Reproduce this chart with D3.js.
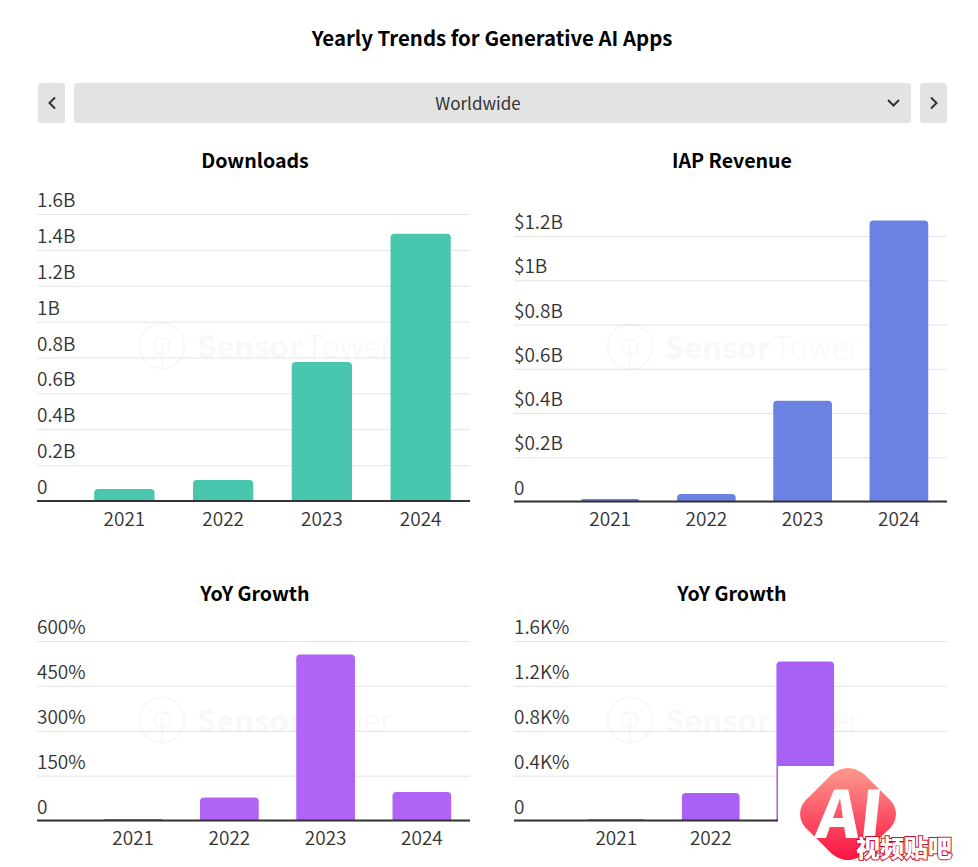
<!DOCTYPE html>
<html lang="en">
<head>
<meta charset="UTF-8">
<title>Yearly Trends for Generative AI Apps</title>
<script src="https://d3js.org/d3.v7.min.js"></script>
<style>
    html, body { margin: 0; padding: 0; background: #fff; }
    svg { display: block; }
    text { font-family: "Noto Sans CJK SC", "Noto Sans", sans-serif; }
    .tick-label { font-size: 19px; fill: #333; font-weight: 350; }
    .panel-title { font-size: 19.6px; font-weight: 700; fill: #000; text-anchor: middle; }
</style>
</head>
<body>
<script>
const years = ["2021", "2022", "2023", "2024"];

const downloads = [0.067, 0.117, 0.775, 1.49];
const downloadTicks = [0, 0.2, 0.4, 0.6, 0.8, 1, 1.2, 1.4, 1.6];
const downloadLabels = ["0", "0.2B", "0.4B", "0.6B", "0.8B", "1B", "1.2B", "1.4B", "1.6B"];

const revenue = [0.011, 0.034, 0.455, 1.27];
const revenueTicks = [0, 0.2, 0.4, 0.6, 0.8, 1, 1.2];
const revenueLabels = ["0", "$0.2B", "$0.4B", "$0.6B", "$0.8B", "$1B", "$1.2B"];

const downloadGrowth = [5, 77, 555, 95];
const downloadGrowthTicks = [0, 150, 300, 450, 600];
const downloadGrowthLabels = ["0", "150%", "300%", "450%", "600%"];

const revenueGrowth = [0.012, 0.245, 1.417, 0.18];
const revenueGrowthTicks = [0, 0.4, 0.8, 1.2, 1.6];
const revenueGrowthLabels = ["0", "0.4K%", "0.8K%", "1.2K%", "1.6K%"];

const width = 978;
const height = 867;

const svg = d3.select("body").append("svg")
    .attr("width", width)
    .attr("height", height);

svg.append("text")
    .attr("x", 492).attr("y", 46)
    .attr("text-anchor", "middle")
    .style("font-size", "20.4px").style("font-weight", 700)
    .text("Yearly Trends for Generative AI Apps");

// selector bar
const selector = svg.append("g");
[[38, 27], [74, 837], [920, 27]].forEach(b => {
    selector.append("rect")
        .attr("x", b[0]).attr("y", 83)
        .attr("width", b[1]).attr("height", 40)
        .attr("rx", 3).attr("fill", "#e3e3e3");
});
selector.append("text")
    .attr("x", 478).attr("y", 110)
    .attr("text-anchor", "middle")
    .style("font-size", "17px").style("fill", "#333")
    .text("Worldwide");
["M55,97.5 L49.5,103 L55,108.5", "M931,97.5 L936.5,103 L931,108.5", "M888,100 L893.5,105.5 L899,100"].forEach(d => {
    selector.append("path")
        .attr("d", d).attr("fill", "none")
        .attr("stroke", "#333").attr("stroke-width", 2);
});

function watermark(cx, cy) {
    const g = svg.append("g").attr("opacity", 0.025);
    g.append("circle").attr("cx", cx).attr("cy", cy).attr("r", 22.5)
        .attr("fill", "none").attr("stroke", "#000").attr("stroke-width", 2);
    g.append("circle").attr("cx", cx).attr("cy", cy).attr("r", 8)
        .attr("fill", "none").attr("stroke", "#000").attr("stroke-width", 2);
    g.append("line").attr("x1", cx).attr("x2", cx).attr("y1", cy - 3).attr("y2", cy + 22)
        .attr("stroke", "#000").attr("stroke-width", 2);
    const t = g.append("text").attr("x", cx + 35).attr("y", cy + 12)
        .style("font-size", "31px");
    t.append("tspan").style("font-weight", 700).text("Sensor");
    t.append("tspan").attr("dx", 3).style("font-weight", 300).text("Tower");
}

function topRounded(x, y0, w, y1, r) {
    const rr = Math.min(r, y0 - y1);
    return `M${x},${y0}V${y1 + rr}Q${x},${y1} ${x + rr},${y1}H${x + w - rr}Q${x + w},${y1} ${x + w},${y1 + rr}V${y0}Z`;
}

function drawPanel(p) {
    const x = d3.scaleBand().domain(years).range([p.bandLeft, p.right]).paddingInner(p.pad).paddingOuter(p.pad / 2);
    const y = d3.scaleLinear().domain([0, p.ticks[p.ticks.length - 1]]).range([p.base, p.top]);

    svg.append("text").attr("class", "panel-title")
        .attr("x", p.titleX).attr("y", p.titleY).text(p.title);

    const yAxis = svg.append("g")
        .attr("transform", `translate(${p.left},0)`)
        .call(d3.axisRight(y)
            .tickValues(p.ticks)
            .tickSize(p.right - p.left)
            .tickFormat((d, i) => p.labels[i]));
    yAxis.select(".domain").remove();
    yAxis.selectAll("line").attr("stroke", "#e4e4e4");
    yAxis.selectAll("text")
        .attr("class", "tick-label")
        .attr("x", 0).attr("dy", "-7.4px")
        .style("fill", "#333")
        .attr("text-anchor", "start");

    watermark(p.markX, p.markY);

    svg.append("g").selectAll("path")
        .data(p.values)
        .enter().append("path")
        .attr("d", (d, i) => topRounded(x(years[i]), y(0), x.bandwidth(), y(d), 4))
        .attr("fill", p.color);

    svg.append("line")
        .attr("x1", p.left).attr("x2", p.right)
        .attr("y1", y(0)).attr("y2", y(0))
        .attr("stroke", "#333").attr("stroke-width", 1.8);

    // the badge hides the last labels of the bottom right panel
    const xAxis = svg.append("g")
        .attr("transform", `translate(0,${p.base})`)
        .call(d3.axisBottom(x).tickSize(0).tickPadding(p.xPad)
            .tickValues(p.xLabels || years));
    xAxis.select(".domain").remove();
    xAxis.selectAll("text").attr("class", "tick-label").style("fill", "#333");
}

drawPanel({
    title: "Downloads", titleX: 255, titleY: 168,
    values: downloads, ticks: downloadTicks, labels: downloadLabels, color: "#48c6ae",
    left: 37, right: 470, bandLeft: 75, pad: 0.39, top: 214, base: 501, xPad: 12,
    markX: 162, markY: 346
});
drawPanel({
    title: "IAP Revenue", titleX: 732, titleY: 168,
    values: revenue, ticks: revenueTicks, labels: revenueLabels, color: "#6b82e3",
    left: 514, right: 947, bandLeft: 562, pad: 0.39, top: 236, base: 501.5, xPad: 11,
    markX: 630, markY: 347
});
drawPanel({
    title: "YoY Growth", titleX: 255, titleY: 601,
    values: downloadGrowth, ticks: downloadGrowthTicks, labels: downloadGrowthLabels, color: "#b163f5",
    left: 37, right: 470, bandLeft: 85, pad: 0.39, top: 641, base: 820.5, xPad: 11,
    markX: 162, markY: 720
});
drawPanel({
    title: "YoY Growth", titleX: 732, titleY: 601,
    values: revenueGrowth, ticks: revenueGrowthTicks, labels: revenueGrowthLabels, color: "#a961f5",
    left: 514, right: 947, bandLeft: 569, pad: 0.39, top: 641, base: 820.5, xPad: 11,
    markX: 630, markY: 720, xLabels: years.slice(0, 2)
});

// the corner badge pasted over the bottom right of the image
svg.append("rect")
    .attr("x", 778).attr("y", 766)
    .attr("width", width - 778).attr("height", height - 766)
    .attr("fill", "#fff");

const grad = svg.append("defs").append("linearGradient")
    .attr("id", "badge").attr("x1", 0).attr("x2", 0).attr("y1", 0).attr("y2", 1);
grad.append("stop").attr("offset", "0%").attr("stop-color", "#fb9a8c");
grad.append("stop").attr("offset", "100%").attr("stop-color", "#fb1343");

const badge = svg.append("g").attr("transform", "translate(848,814)");
badge.append("path")
    .attr("d", "M-48,0 Q-48,-10 -38,-18 L-16,-40 Q0,-52 16,-40 L38,-18 Q48,-10 48,0 Q48,10 38,18 L16,40 Q0,52 -16,40 L-38,18 Q-48,10 -48,0Z")
    .attr("fill", "url(#badge)");
badge.append("text")
    .attr("x", -31).attr("y", 24)
    .attr("transform", "skewX(-6)")
    .attr("textLength", 66).attr("lengthAdjust", "spacingAndGlyphs")
    .style("font-size", "65px").style("font-weight", 900).style("fill", "#fff")
    .text("AI");
badge.append("text")
    .attr("x", 56).attr("y", 43)
    .attr("text-anchor", "middle")
    .style("font-size", "24px").style("font-weight", 900).style("fill", "#fff")
    .style("stroke", "#c8102e").style("stroke-width", 2).style("paint-order", "stroke")
    .attr("textLength", 96)
    .text("视频贴吧");
</script>
</body>
</html>
